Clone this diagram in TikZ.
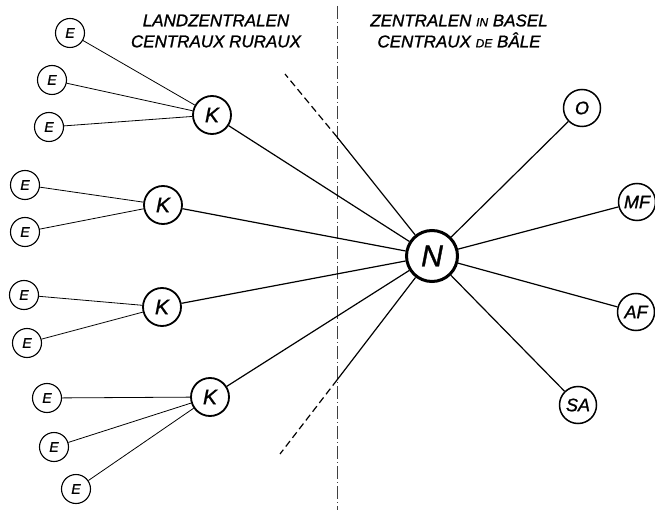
\documentclass[tikz,border=0pt]{standalone}
\usepackage{fontspec}
\setmainfont{Liberation Sans}[FakeBold=1.2]
\begin{document}
\begin{tikzpicture}[x=1pt,y=-1pt,
  enode/.style={circle,draw,line width=1.1pt,minimum size=29pt,inner sep=0pt,font=\itshape\fontsize{14}{14}\selectfont},
  knode/.style={circle,draw,line width=1.8pt,minimum size=38pt,inner sep=0pt,font=\itshape\fontsize{21}{21}\selectfont},
  nnode/.style={circle,draw,line width=3pt,minimum size=51pt,inner sep=0pt,font=\itshape\fontsize{30}{30}\selectfont},
  cnode/.style={circle,draw,line width=1.5pt,minimum size=37pt,inner sep=0pt,font=\itshape\fontsize{18}{18}\selectfont},
  label/.style={align=center,inner sep=0pt,font=\itshape\fontsize{17}{21}\selectfont},
  elink/.style={line width=0.8pt},
  mlink/.style={line width=1.2pt},
  bound/.style={line width=1.2pt,dash pattern=on 7pt off 4pt},
  axis/.style={line width=0.6pt,black!75,dash pattern=on 13pt off 3pt on 1pt off 3pt}]
\useasboundingbox (0,0) rectangle (655,510);
\fill[white] (0,0) rectangle (655,510);

% central node
\node[nnode] (N) at (432,256) {N};

% K nodes
\node[knode] (K1) at (212,115) {K};
\node[knode] (K2) at (163,205) {K};
\node[knode] (K3) at (162,307) {K};
\node[knode] (K4) at (210,397) {K};

% E nodes
\node[enode] (E1) at (70,33) {E};
\node[enode] (E2) at (52,80) {E};
\node[enode] (E3) at (49,127) {E};
\node[enode] (E4) at (25,185) {E};
\node[enode] (E5) at (25,232) {E};
\node[enode] (E6) at (24,295) {E};
\node[enode] (E7) at (27,343) {E};
\node[enode] (E8) at (47,398) {E};
\node[enode] (E9) at (54,447) {E};
\node[enode] (E10) at (76,489) {E};

% Basel nodes
\node[cnode] (O) at (582,108) {O};
\node[cnode] (MF) at (637,202) {MF};
\node[cnode] (AF) at (636,312) {AF};
\node[cnode] (SA) at (578,405) {SA};

% labels
\node[label] (land) at (216,31) {LANDZENTRALEN\\CENTRAUX RURAUX};
\node[label] (basel) at (459,31) {ZENTRALEN {\fontsize{12}{12}\selectfont IN} BASEL\\CENTRAUX {\fontsize{12}{12}\selectfont DE} BÂLE};

% division line
\coordinate (ax1) at (337,6);
\coordinate (ax2) at (337,510);
\draw[axis] (ax1) -- (ax2);

% boundary lines
\coordinate (b1) at (337,137);
\coordinate (b1e) at (285,74);
\coordinate (b2) at (337,380);
\coordinate (b2e) at (280,454);
\draw[mlink] (N) -- (b1);
\draw[bound] (b1) -- (b1e);
\draw[mlink] (N) -- (b2);
\draw[bound] (b2) -- (b2e);

% links
\foreach \e/\k in {E1/K1,E2/K1,E3/K1,E4/K2,E5/K2,E6/K3,E7/K3,E8/K4,E9/K4,E10/K4}
  \draw[elink] (\e) -- (\k);
\foreach \k in {K1,K2,K3,K4,O,MF,AF,SA}
  \draw[mlink] (N) -- (\k);
\end{tikzpicture}
\end{document}
